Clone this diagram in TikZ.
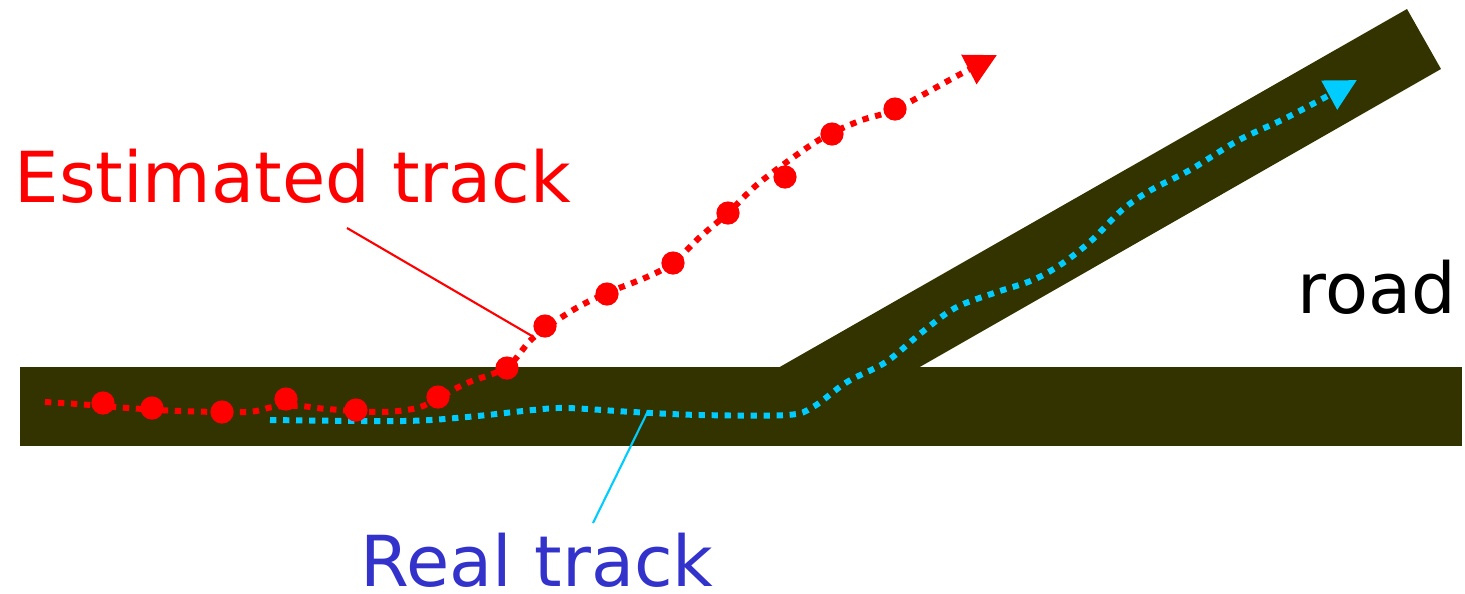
\documentclass[tikz,border=0pt]{standalone}
\usepackage{fontspec}
\setmainfont{DejaVu Sans}
\usepackage{xcolor}
\definecolor{cRoad}{HTML}{333300}
\definecolor{cEst}{HTML}{FF0000}
\definecolor{cReal}{HTML}{00CCFF}
\definecolor{cRealText}{HTML}{3333CC}
\usepackage{tikz}
\usetikzlibrary{arrows.meta}
\tikzset{
  road-part/.style={fill=cRoad,draw=none},
  track-est/.style={draw=cEst,line width=1.7pt,dash pattern=on 1.8pt off 1.9pt,
    -{Triangle[length=9pt,width=9pt]}},
  track-real/.style={draw=cReal,line width=1.7pt,dash pattern=on 1.8pt off 1.9pt,
    -{Triangle[length=9pt,width=9pt]}},
  dot-est/.style={circle,fill=cEst,inner sep=0pt,minimum size=6.6pt},
  leader-est/.style={draw=cEst,line width=0.6pt},
  leader-real/.style={draw=cReal,line width=0.6pt},
  label-text/.style={inner sep=0pt,anchor=base west,font=\fontsize{20}{24}\selectfont},
}

\begin{document}
\begin{tikzpicture}[x=0.01cm,y=-0.01cm]
  \useasboundingbox (0,0) rectangle (1465,593);
  % road
  \fill[road-part] (20,367) rectangle (1462,446);
  \fill[road-part] (778,368) -- (1407,9) -- (1441,69) -- (918,368) -- cycle;
  % real track
  \draw[track-real] plot[smooth,tension=0.55] coordinates {
    (270,420) (403,421) (467,417) (533,410) (567,408) (633,412) (700,415)
    (787,415) (813,407) (847,382) (886,362) (921,333) (955,308) (994,293)
    (1033,280) (1063,263) (1092,240) (1122,210) (1151,190) (1190,170)
    (1239,140) (1288,117) (1357,80)};
  % estimated track
  \draw[track-est] plot[smooth,tension=0.55] coordinates {
    (45,402) (77,404) (128,408) (180,411) (247,412) (273,407) (300,406)
    (327,409) (380,412) (417,408) (440,397) (467,383) (507,367) (533,338)
    (573,310) (607,293) (647,277) (673,263) (700,237) (728,213) (759,183)
    (808,147) (832,133) (862,120) (896,109) (955,77) (997,55)};
  \foreach \px/\py [count=\i] in {103/403,152/408,222/412,286/399,356/410,
      438/397,507/368,545/326,607/294,673/263,728/213,785/177,832/134,895/109}
    \node[dot-est] (est-\i) at (\px,\py) {};
  % labels
  \node[label-text,text=cEst] (lbl-est) at (14,202) {Estimated track};
  \node[label-text,text=cRealText] (lbl-real) at (360,586) {Real track};
  \node[label-text] (lbl-road) at (1297,313) {road};
  \coordinate (est-hit) at (532,336);
  \coordinate (real-hit) at (648,411);
  \coordinate (est-foot) at (347,228);
  \coordinate (real-foot) at (593,523);
  \draw[leader-est] (est-foot) -- (est-hit);
  \draw[leader-real] (real-foot) -- (real-hit);
\end{tikzpicture}
\end{document}
